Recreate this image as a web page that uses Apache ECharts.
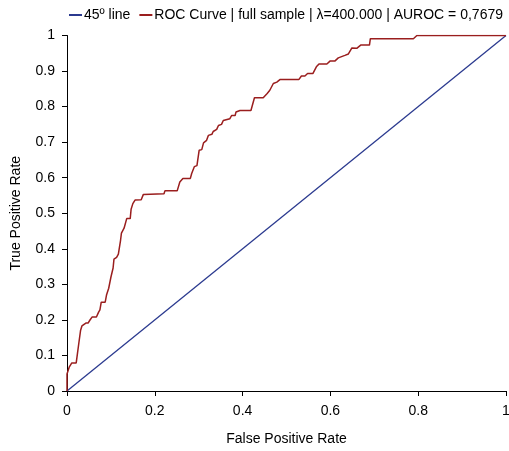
<!DOCTYPE html>
<html><head><meta charset="utf-8">
<script src="https://cdn.jsdelivr.net/npm/echarts@6/dist/echarts.min.js"></script>
<style>html,body{margin:0;padding:0;background:#fff}#c{width:509px;height:451px}</style>
</head><body><div id="c"></div>
<script>
var seriesNames = ["45º line", "ROC Curve | full sample | λ=400.000 | AUROC = 0,7679"];
var diagFpr = [0, 1];
var diagTpr = [0, 1];
var rocFpr = [0,0,0.005,0.011,0.021,0.024,0.027,0.031,0.034,0.043,0.048,0.052,0.057,0.067,0.072,0.075,0.078,0.087,0.090,0.095,0.100,0.105,0.107,0.113,0.117,0.122,0.124,0.130,0.134,0.136,0.144,0.146,0.150,0.155,0.169,0.174,0.221,0.223,0.251,0.257,0.264,0.281,0.284,0.290,0.296,0.301,0.307,0.311,0.318,0.322,0.330,0.333,0.341,0.345,0.352,0.356,0.371,0.375,0.383,0.385,0.394,0.419,0.427,0.447,0.456,0.462,0.470,0.478,0.485,0.528,0.534,0.542,0.548,0.560,0.568,0.574,0.592,0.599,0.610,0.618,0.633,0.641,0.649,0.660,0.669,0.689,0.691,0.789,0.797,1];
var rocTpr = [0,0.048,0.067,0.079,0.079,0.107,0.135,0.171,0.183,0.191,0.191,0.199,0.208,0.208,0.222,0.228,0.250,0.250,0.270,0.289,0.320,0.346,0.371,0.376,0.385,0.424,0.444,0.458,0.462,0.485,0.485,0.511,0.527,0.537,0.538,0.553,0.555,0.563,0.563,0.588,0.598,0.598,0.612,0.631,0.634,0.677,0.679,0.698,0.705,0.719,0.722,0.730,0.736,0.747,0.750,0.761,0.766,0.775,0.775,0.785,0.789,0.789,0.825,0.825,0.837,0.846,0.865,0.869,0.876,0.876,0.886,0.886,0.893,0.893,0.912,0.920,0.920,0.928,0.928,0.937,0.944,0.948,0.965,0.964,0.973,0.973,0.991,0.991,1,1];
var xTicks = [0, 0.2, 0.4, 0.6, 0.8, 1];
var yTicks = [0, 0.1, 0.2, 0.3, 0.4, 0.5, 0.6, 0.7, 0.8, 0.9, 1];

function pairs(a, b) { return a.map(function (v, i) { return [v, b[i]]; }); }
var FONT = 'Liberation Sans, Arial, sans-serif';
var chart = echarts.init(document.getElementById('c'), null, {renderer: 'canvas'});
chart.setOption({
  animation: false,
  backgroundColor: '#fff',
  textStyle: {fontFamily: FONT},
  legend: {
    top: 8, left: 68, width: 441, padding: 0, itemWidth: 13, itemHeight: 2, itemGap: 8,
    textStyle: {fontFamily: FONT, fontSize: 14, color: '#000', padding: [0, 0, 0, -3]},
    data: seriesNames
  },
  grid: {left: 67, right: 3, top: 35.5, bottom: 60, containLabel: false, outerBoundsMode: 'none'},
  xAxis: {
    type: 'value', min: 0, max: 1, interval: 0.2,
    name: 'False Positive Rate', nameLocation: 'middle', nameGap: 41,
    nameTextStyle: {fontFamily: FONT, fontSize: 14, color: '#000'},
    axisLine: {show: true, lineStyle: {color: '#000', width: 1}},
    axisTick: {show: true, length: 5, lineStyle: {color: '#000'}},
    axisLabel: {margin: 13, fontFamily: FONT, fontSize: 14, color: '#000',
      formatter: function (v) { return String(xTicks[Math.round(v / 0.2)]); }},
    splitLine: {show: false}
  },
  yAxis: {
    type: 'value', min: 0, max: 1, interval: 0.1,
    name: 'True Positive Rate', nameLocation: 'middle', nameGap: 44,
    nameTextStyle: {fontFamily: FONT, fontSize: 14, color: '#000'},
    axisLine: {show: true, lineStyle: {color: '#000', width: 1}},
    axisTick: {show: true, length: 5, lineStyle: {color: '#000'}},
    axisLabel: {margin: 12, fontFamily: FONT, fontSize: 14, color: '#000',
      formatter: function (v) { return String(yTicks[Math.round(v / 0.1)]); }},
    splitLine: {show: false}
  },
  series: [
    {name: seriesNames[0], type: 'line', data: pairs(diagFpr, diagTpr), symbol: 'none',
      lineStyle: {color: '#2B3A8F', width: 1.3}, itemStyle: {color: '#2B3A8F'}, z: 2},
    {name: seriesNames[1], type: 'line', data: pairs(rocFpr, rocTpr), symbol: 'none',
      lineStyle: {color: '#9A1E1E', width: 1.5}, itemStyle: {color: '#9A1E1E'}, z: 3}
  ]
});
</script></body></html>
